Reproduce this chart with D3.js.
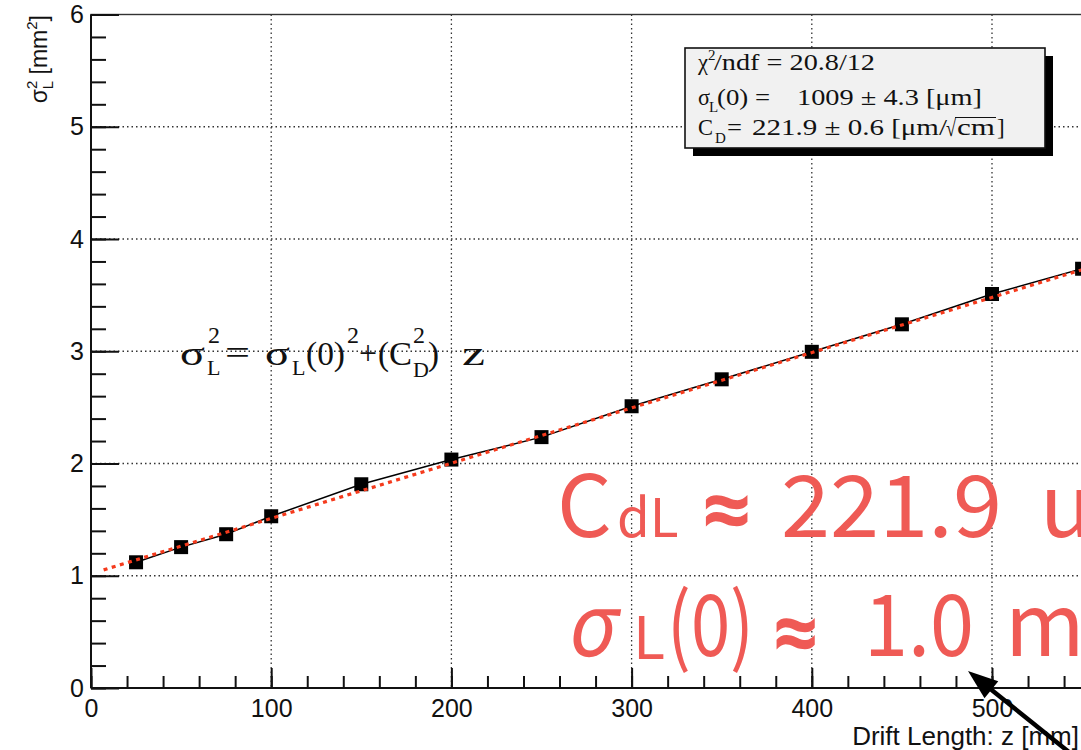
<!DOCTYPE html>
<html><head><meta charset="utf-8">
<script src="https://cdn.jsdelivr.net/npm/d3@7"></script>
<style>
html,body{margin:0;padding:0;background:#fff;overflow:hidden}
svg{display:block}
</style></head><body>
<svg id="chart" width="1081" height="750"></svg>
<script>
// Longitudinal diffusion: sigma_L^2 measured at each drift length z
const driftLength = [25, 50, 75, 100, 150, 200, 250, 300, 350, 400, 450, 500, 550];          // mm
const sigmaLSquared = [1.12, 1.255, 1.37, 1.53, 1.815, 2.035, 2.235, 2.51, 2.75, 2.995, 3.24, 3.51, 3.735]; // mm^2

// Fit result  sigma_L^2 = sigma_L(0)^2 + C_D^2 z
const fitSigma0 = 1009;    // um
const fitCD = 221.9;       // um / sqrt(cm)
const fitRange = [7, 600]; // mm

const xMajorTicks = [0, 100, 200, 300, 400, 500, 600];
const yMajorTicks = [0, 1, 2, 3, 4, 5, 6];
const xGridValues = [100, 200, 300, 400, 500, 600];
const yGridValues = [1, 2, 3, 4, 5];

const svg = d3.select("#chart");

const x = d3.scaleLinear().domain([0, 600]).range([91, 91 + 6 * 180.2]);
const y = d3.scaleLinear().domain([0, 6]).range([688, 14.5]);

const sans = "'Liberation Sans', Arial, Helvetica, sans-serif";
const serif = "'Liberation Serif', 'Times New Roman', serif";

// grid
const grid = svg.append("g").attr("stroke", "#333").attr("stroke-width", 1.3)
  .attr("stroke-dasharray", "1.5,3");
grid.selectAll("line.v").data(xGridValues).join("line").attr("class", "v")
  .attr("x1", d => x(d)).attr("x2", d => x(d)).attr("y1", y(6)).attr("y2", y(0));
grid.selectAll("line.h").data(yGridValues).join("line").attr("class", "h")
  .attr("x1", x(0)).attr("x2", x(600)).attr("y1", d => y(d)).attr("y2", d => y(d));

// frame
svg.append("rect").attr("x", x(0)).attr("y", y(6))
  .attr("width", x(600) - x(0)).attr("height", y(0) - y(6))
  .attr("fill", "none").attr("stroke", "#333").attr("stroke-width", 1.4);

// axes
function styleAxis(g) {
  g.select(".domain").remove();
  g.selectAll(".tick line").attr("stroke", "#111").attr("stroke-width", 2);
  g.selectAll(".tick text").attr("font-family", sans).attr("font-size", 25).attr("fill", "#111");
}
svg.append("g").attr("transform", `translate(0,${y(0)})`)
  .call(d3.axisBottom(x).tickValues(d3.range(0, 601, 20)).tickSize(-12).tickFormat(""))
  .call(styleAxis);
svg.append("g").attr("transform", `translate(0,${y(0)})`)
  .call(d3.axisBottom(x).tickValues(xMajorTicks).tickSize(-20).tickPadding(11).tickFormat(d3.format("d")))
  .call(styleAxis);
svg.append("g").attr("transform", `translate(${x(0)},0)`)
  .call(d3.axisLeft(y).tickValues(d3.range(0, 30).map(i => i * 0.2)).tickSize(-15).tickFormat(""))
  .call(styleAxis);
svg.append("g").attr("transform", `translate(${x(0)},0)`)
  .call(d3.axisLeft(y).tickValues(yMajorTicks).tickSize(-28).tickPadding(7).tickFormat(d3.format("d")))
  .call(styleAxis);
svg.append("line").attr("x1", x(0)).attr("x2", x(600)).attr("y1", y(0)).attr("y2", y(0))
  .attr("stroke", "#111").attr("stroke-width", 2);
svg.append("line").attr("x1", x(0)).attr("x2", x(0)).attr("y1", y(0)).attr("y2", y(6))
  .attr("stroke", "#111").attr("stroke-width", 2);

// axis titles
svg.append("text").attr("x", 1079).attr("y", 745).attr("text-anchor", "end")
  .attr("font-family", sans).attr("font-size", 26).attr("fill", "#111")
  .text("Drift Length: z [mm]");

const yTitle = svg.append("g").attr("transform", "translate(47,15) rotate(-90)")
  .attr("font-family", sans).attr("fill", "#111");
{
  // anchored at its end so the label finishes at the top of the axis
  const t = yTitle.append("text").attr("text-anchor", "end").attr("font-size", 23);
  t.append("tspan").text("σ");
  t.append("tspan").attr("font-size", 15).attr("dy", -10).text("2");
  t.append("tspan").attr("font-size", 15).attr("dx", -8.5).attr("dy", 16).text("L");
  t.append("tspan").attr("dy", -6).text(" [mm");
  t.append("tspan").attr("font-size", 15).attr("dy", -10).text("2");
  t.append("tspan").attr("dy", 10).text("]");
}

// data graph: connecting line, markers
const line = d3.line().x(d => x(d[0])).y(d => y(d[1]));
const pts = driftLength.map((z, i) => [z, sigmaLSquared[i]]);
svg.append("path").datum(pts).attr("d", line)
  .attr("fill", "none").attr("stroke", "#000").attr("stroke-width", 1.5);
const ms = 14;
svg.selectAll("rect.pt").data(pts).join("rect").attr("class", "pt")
  .attr("x", d => x(d[0]) - ms / 2).attr("y", d => y(d[1]) - ms / 2)
  .attr("width", ms).attr("height", ms).attr("fill", "#000");

// fit curve from the fitted parameters (z in mm -> cm)
const s0mm = fitSigma0 / 1000, cdmm = fitCD / 1000;
const fitPts = fitRange.map(z => [z, s0mm * s0mm + cdmm * cdmm * z / 10]);
svg.append("path").datum(fitPts).attr("d", line)
  .attr("fill", "none").attr("stroke", "#f53a1c").attr("stroke-width", 3.2)
  .attr("stroke-dasharray", "4,4.5");

// fit formula
const f = svg.append("g").attr("font-family", serif).attr("fill", "#111");
function piece(g, str, px, py, size, tl) {
  const t = g.append("text").attr("x", px).attr("y", py).attr("font-size", size).text(str);
  if (tl) t.attr("textLength", tl).attr("lengthAdjust", "spacingAndGlyphs");
  return t;
}
piece(f, "σ", 180, 365, 33, 25);
piece(f, "2", 208, 343, 24);
piece(f, "L", 207, 375, 22);
piece(f, "=", 225, 364, 33, 25);
piece(f, "σ", 265, 365, 33, 25);
piece(f, "L", 292, 375, 22);
piece(f, "(0)", 306, 365, 33, 39);
piece(f, "2", 347, 343, 24);
piece(f, "+", 359, 364, 33, 18);
piece(f, "(", 378, 365, 33);
piece(f, "C", 389, 365, 33, 23);
piece(f, "2", 413, 343, 24);
piece(f, "D", 413, 377, 22);
piece(f, ")", 428, 365, 33);
piece(f, "z", 462, 365, 33, 23);

// statistics box
const bx = 685, by = 48, bw = 360, bh = 100;
svg.append("rect").attr("x", bx + 8).attr("y", by + 8).attr("width", bw).attr("height", bh).attr("fill", "#000");
svg.append("rect").attr("x", bx).attr("y", by).attr("width", bw).attr("height", bh)
  .attr("fill", "#f1f1f1").attr("stroke", "#111").attr("stroke-width", 1.6);
const st = svg.append("g").attr("font-family", serif).attr("fill", "#111");
piece(st, "χ", 698, 70, 23, 10);
piece(st, "2", 708, 60, 15);
piece(st, "/ndf = 20.8/12", 714, 70, 23, 161);
piece(st, "σ", 698, 105, 23, 12);
piece(st, "L", 709, 112, 15);
piece(st, "(0) =", 717, 105, 23, 53);
piece(st, "1009 ± 4.3 [μm]", 797, 105, 23, 185);
piece(st, "C", 698, 135, 23, 15);
piece(st, "D", 715, 143, 15);
piece(st, "=", 727, 135, 23, 15);
piece(st, "221.9 ± 0.6 [μm/", 752, 135, 23, 195);
piece(st, "√", 946, 136, 23, 10);
piece(st, "cm", 957, 135, 23, 38);
piece(st, "]", 997, 135, 23);
st.append("line").attr("x1", 955).attr("x2", 996).attr("y1", 117.5).attr("y2", 117.5)
  .attr("stroke", "#111").attr("stroke-width", 1.2);

// highlighted fit values
const red = "#ef5a55";
const cjk = "'Noto Sans CJK JP', 'Noto Sans', sans-serif";
const latin = "'Noto Sans', 'Open Sans', sans-serif";
const r = svg.append("g").attr("font-family", cjk).attr("fill", red);
piece(r, "C", 557, 537, 86);
piece(r, "dL", 617, 537, 53);
piece(r, "≈", 702, 541, 86, 49).attr("font-family", latin).attr("font-weight", 700);
piece(r, "221.9", 781, 537, 86, 221);
piece(r, "um/√cm", 1040, 537, 86);
piece(r, "σ", 0, 0, 86, 48).attr("transform", "translate(566,656) skewX(-10)");
piece(r, "L", 633, 659, 59);
piece(r, "(0)", 667, 656, 86, 87);
piece(r, "≈", 773, 664, 86, 45).attr("font-family", latin).attr("font-weight", 700);
piece(r, "1.0", 864, 656, 86, 110);
piece(r, "mm", 1005, 656, 86);

// arrow pointing at the fit
{
  const tip = [968, 671], tail = [1110, 785];
  const dx = tip[0] - tail[0], dy = tip[1] - tail[1];
  const len = Math.hypot(dx, dy), ux = dx / len, uy = dy / len;
  const hl = 30, hw = 11;
  const base = [tip[0] - ux * hl, tip[1] - uy * hl];
  svg.append("line").attr("x1", tail[0]).attr("y1", tail[1]).attr("x2", base[0] + ux * 4).attr("y2", base[1] + uy * 4)
    .attr("stroke", "#000").attr("stroke-width", 4.5);
  svg.append("path").attr("d", `M${tip[0]},${tip[1]}L${base[0] - uy * hw},${base[1] + ux * hw}L${base[0] + uy * hw},${base[1] - ux * hw}Z`)
    .attr("fill", "#000");
}
</script>
</body></html>
